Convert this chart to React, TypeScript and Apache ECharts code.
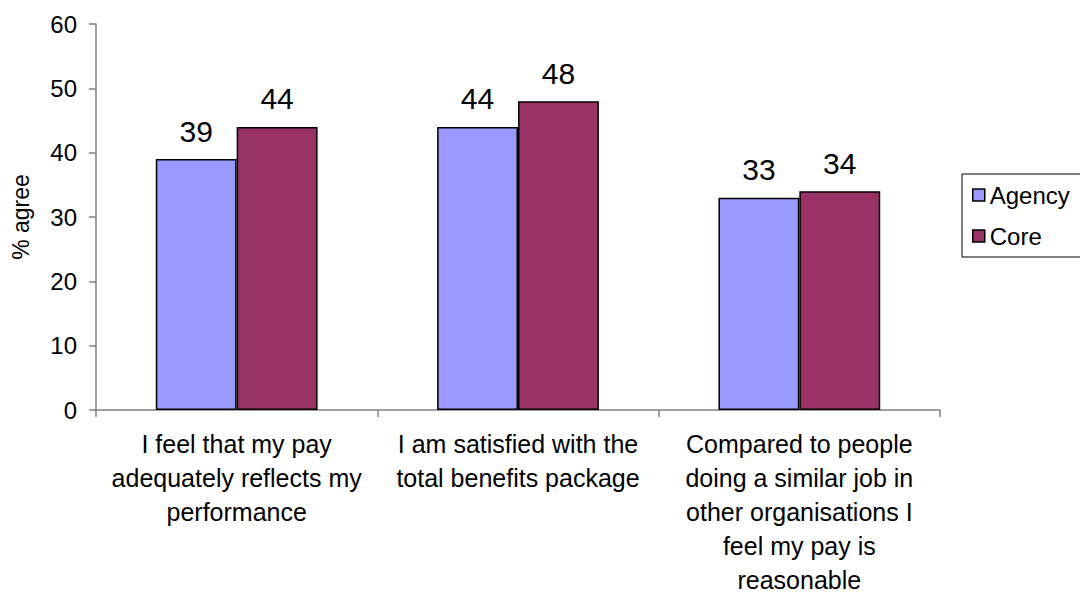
import React, { useEffect, useRef } from "react";
import * as echarts from "echarts";

const categories = [
  "I feel that my pay\nadequately reflects my\nperformance",
  "I am satisfied with the\ntotal benefits package",
  "Compared to people\ndoing a similar job in\nother organisations I\nfeel my pay is\nreasonable",
];
const agency = [39, 44, 33];
const core = [44, 48, 34];
const yTicks = { min: 0, max: 60, interval: 10 };

const FONT = "'Liberation Sans', Arial, sans-serif";

export default function App() {
  const ref = useRef<HTMLDivElement>(null);
  useEffect(() => {
    if (!ref.current) return;
    const chart = echarts.init(ref.current, null, { renderer: "svg" });
    const labelStyle = {
      show: true,
      position: "top" as const,
      distance: 13,
      fontSize: 30,
      color: "#000",
      fontFamily: FONT,
    };
    chart.setOption({
      animation: false,
      backgroundColor: "#fff",
      textStyle: { fontFamily: FONT, color: "#000" },
      grid: {
        left: 96,
        right: 140,
        top: 24,
        bottom: 183,
        containLabel: false,
        outerBoundsMode: "none",
      },
      legend: {
        orient: "vertical",
        left: 962,
        top: 174,
        borderColor: "#000",
        borderWidth: 1,
        borderRadius: 0,
        padding: [9, 30, 9, 10],
        itemGap: 17,
        itemWidth: 12,
        itemHeight: 12,
        icon: "rect",
        textStyle: { fontSize: 24, color: "#000", fontFamily: FONT },
        data: [
          { name: "Agency", itemStyle: { borderColor: "#000", borderWidth: 1.5 } },
          { name: "Core", itemStyle: { borderColor: "#000", borderWidth: 1.5 } },
        ],
      },
      xAxis: {
        type: "category",
        data: categories,
        axisLine: { lineStyle: { color: "#808080", width: 1.5 } },
        axisTick: { show: true, length: 7, lineStyle: { color: "#808080", width: 1.5 } },
        axisLabel: {
          interval: 0,
          fontSize: 25,
          lineHeight: 34,
          color: "#000",
          fontFamily: FONT,
          margin: 17,
          align: "center",
        },
      },
      yAxis: {
        type: "value",
        min: yTicks.min,
        max: yTicks.max,
        interval: yTicks.interval,
        name: "% agree",
        nameLocation: "middle",
        nameGap: 64,
        nameTextStyle: { fontSize: 23, color: "#000", fontFamily: FONT },
        splitLine: { show: false },
        axisLine: { show: true, lineStyle: { color: "#808080", width: 1.5 } },
        axisTick: { show: true, inside: false, length: 7, lineStyle: { color: "#808080", width: 1.5 } },
        axisLabel: { fontSize: 24, color: "#000", fontFamily: FONT, margin: 19 },
      },
      series: [
        {
          name: "Agency",
          type: "bar",
          data: agency,
          barGap: "0%",
          barCategoryGap: "42.5%",
          itemStyle: { color: "#9999FF", borderColor: "#000", borderWidth: 1.5 },
          label: labelStyle,
        },
        {
          name: "Core",
          type: "bar",
          data: core,
          barGap: "0%",
          barCategoryGap: "42.5%",
          itemStyle: { color: "#993366", borderColor: "#000", borderWidth: 1.5 },
          label: labelStyle,
        },
      ],
    });
    return () => chart.dispose();
  }, []);
  return <div ref={ref} style={{ width: 1080, height: 593, position: "absolute", left: 0, top: 0 }} />;
}
